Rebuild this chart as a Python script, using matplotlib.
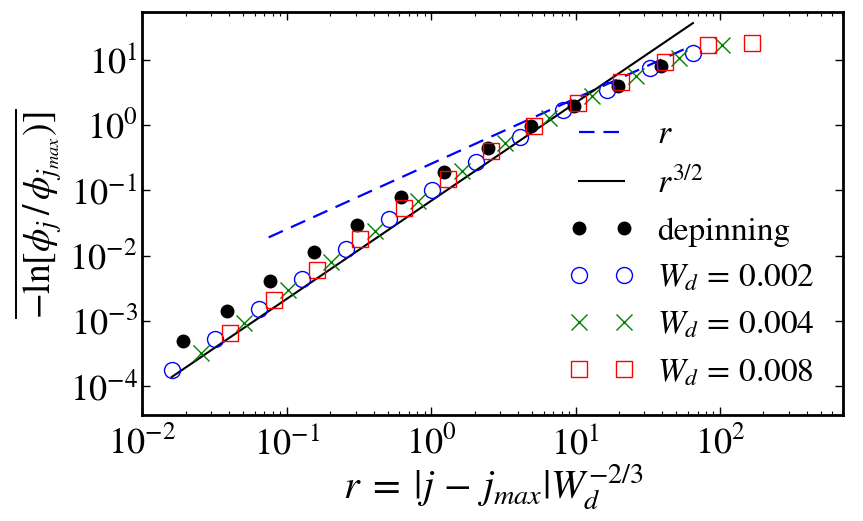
import matplotlib
matplotlib.use("Agg")
import matplotlib.pyplot as plt
from matplotlib.lines import Line2D
from matplotlib.legend_handler import HandlerLine2D
import numpy as np

plt.rcParams['mathtext.fontset'] = 'stix'
plt.rcParams['font.family'] = ['STIXGeneral', 'DejaVu Serif']

# depinning
dep_x = [0.0192, 0.0384, 0.0768, 0.154, 0.307, 0.614, 1.23, 2.46, 4.92, 9.83, 19.7, 39.3]
dep_y = [5.05e-4, 1.44e-3, 4.18e-3, 1.135e-2, 3.0e-2, 7.87e-2, 0.190, 0.442, 0.98, 1.98, 4.0, 8.1]

# W_d = 0.002
w2_x = [0.016, 0.032, 0.064, 0.128, 0.256, 0.512, 1.02, 2.05, 4.1, 8.2, 16.4, 32.8, 65.5]
w2_y = [1.76e-4, 5.31e-4, 1.53e-3, 4.39e-3, 1.26e-2, 3.63e-2, 0.102, 0.276, 0.665, 1.70, 3.44, 7.39, 12.8]

# W_d = 0.004
w4_x = [0.0255, 0.051, 0.102, 0.204, 0.408, 0.815, 1.63, 3.26, 6.52, 13.0, 26.1, 52.2, 104.0]
w4_y = [3.24e-4, 9.52e-4, 2.94e-3, 8.15e-3, 2.40e-2, 0.069, 0.201, 0.527, 1.27, 2.79, 5.63, 10.5, 16.8]

# W_d = 0.008
w8_x = [0.0405, 0.081, 0.162, 0.324, 0.648, 1.30, 2.59, 5.18, 10.4, 20.7, 41.5, 83.0, 166.0]
w8_y = [6.56e-4, 2.07e-3, 6.09e-3, 1.80e-2, 5.34e-2, 0.148, 0.406, 0.969, 2.20, 4.61, 9.32, 16.8, 18.2]

# reference power laws (endpoints)
lin_x = [0.075, 60.0]
lin_y = [0.0191, 15.3]
p32_x = [0.016, 65.0]
p32_y = [1.40e-4, 36.2]

fig = plt.figure(figsize=(8.63, 5.21), dpi=100)
ax = fig.add_axes([0.1649, 0.2025, 0.8123, 0.775])

ax.plot(lin_x, lin_y, color='#0000ff', lw=1.6, linestyle=(0, (7, 4)), label=r'$r$')
ax.plot(p32_x, p32_y, color='black', lw=1.5, label=r'$r^{3/2}$')
ax.plot(dep_x, dep_y, 'o', color='black', ms=9, label='depinning')
ax.plot(w2_x, w2_y, 'o', mfc='none', mec='#0000ff', mew=1.0, ms=11.5, label=r'$W_d\,=\,0.002$')
ax.plot(w4_x, w4_y, 'x', color='#008000', mew=1.0, ms=12, label=r'$W_d\,=\,0.004$')
ax.plot(w8_x, w8_y, 's', mfc='none', mec='#ff0000', mew=1.0, ms=12, label=r'$W_d\,=\,0.008$')

ax.set_xscale('log')
ax.set_yscale('log')
ax.set_xlim(0.01, 715)
ax.set_ylim(3.6e-5, 54)

for s in ax.spines.values():
    s.set_linewidth(2)
ax.tick_params(which='both', direction='in', top=True, right=True, labelsize=26)
ax.tick_params(which='major', length=6, width=1)
ax.tick_params(which='minor', length=3, width=0.8)
ax.tick_params(axis='x', pad=8)
ax.set_xticks([1e-2, 1e-1, 1e0, 1e1, 1e2])
ax.set_yticks([1e-4, 1e-3, 1e-2, 1e-1, 1e0, 1e1])

ax.set_xlabel(r'$r\;=\;|j\,-\,j_{max}|W_d^{-2/3}$', fontsize=29, labelpad=0)
ax.set_ylabel(r'$\overline{-\ln[\phi_j\,/\,\phi_{j_{max}})]}$', fontsize=27, labelpad=4)

ax.legend(loc='lower right', bbox_to_anchor=(0.993, 0.01), frameon=False, numpoints=2,
          fontsize=24, handlelength=1.35, labelspacing=0.5, handletextpad=1.0,
          borderaxespad=0.3, handler_map={Line2D: HandlerLine2D(marker_pad=0.0)})

fig.savefig('out.png', dpi=100)
